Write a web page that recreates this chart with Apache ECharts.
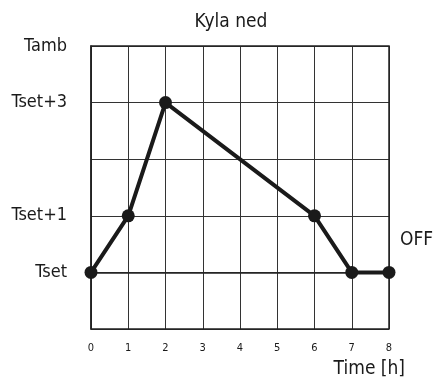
<!DOCTYPE html>
<html>
<head>
<meta charset="utf-8">
<script src="https://cdn.jsdelivr.net/npm/echarts@6/dist/echarts.min.js"></script>
<style>
  html, body { margin: 0; padding: 0; background: #fff; }
  #chart { width: 437px; height: 385px; }
</style>
</head>
<body>
<div id="chart"></div>
<script>
// hours on the x axis
const hours = [0, 1, 2, 3, 4, 5, 6, 7, 8];
// temperature profile, relative to Tset
const profileX = [0, 1, 2, 6, 7, 8];
const profileY = [0, 1, 3, 1, 0, 0];
// y tick labels
const yTickLabels = { '-1': '', '0': 'Tset', '1': 'Tset+1', '2': '', '3': 'Tset+3', '4': 'Tamb' };

const font = '"Liberation Sans Narrow", "DejaVu Sans Condensed", "Roboto Condensed", sans-serif';
const ink = '#1a1a1a';

const chart = echarts.init(document.getElementById('chart'));
chart.setOption({
    animation: false,
    title: {
        text: 'Kyla ned',
        left: 226,
        top: 8,
        textAlign: 'center',
        textStyle: { fontFamily: font, fontSize: 19, fontWeight: 'normal', color: ink }
    },
    grid: { left: 91, right: 48, top: 46, bottom: 56 },
    xAxis: {
        type: 'value',
        min: 0,
        max: 8,
        interval: 1,
        axisLine: { show: true, lineStyle: { color: '#222', width: 1.5 } },
        axisTick: { show: false },
        axisLabel: { margin: 14, fontFamily: font, fontSize: 11, color: ink },
        splitLine: { show: true, lineStyle: { color: '#333', width: 1 } }
    },
    yAxis: {
        type: 'value',
        min: -1,
        max: 4,
        interval: 1,
        axisLine: { show: true, lineStyle: { color: '#222', width: 1.5 } },
        axisTick: { show: false },
        axisLabel: {
            margin: 24,
            fontFamily: font,
            fontSize: 18,
            color: ink,
            formatter: v => yTickLabels[String(v)] || ''
        },
        splitLine: { show: true, lineStyle: { color: '#333', width: 1 } }
    },
    graphic: [
        {
            type: 'text', left: 400, top: 231,
            style: { text: 'OFF', font: '19px ' + font, fill: ink }
        },
        {
            type: 'text', right: 32, top: 360,
            style: { text: 'Time [h]', font: '19px ' + font, fill: ink }
        },
        {
            type: 'rect', shape: { x: 91, y: 46, width: 298, height: 283 },
            style: { fill: 'none', stroke: '#222', lineWidth: 1.5 }, z: 5
        }
    ],
    series: [{
        type: 'line',
        data: profileX.map((x, i) => [x, profileY[i]]),
        symbol: 'circle',
        symbolSize: 13,
        lineStyle: { color: ink, width: 4 },
        itemStyle: { color: ink },
        z: 10
    }]
});
</script>
</body>
</html>
